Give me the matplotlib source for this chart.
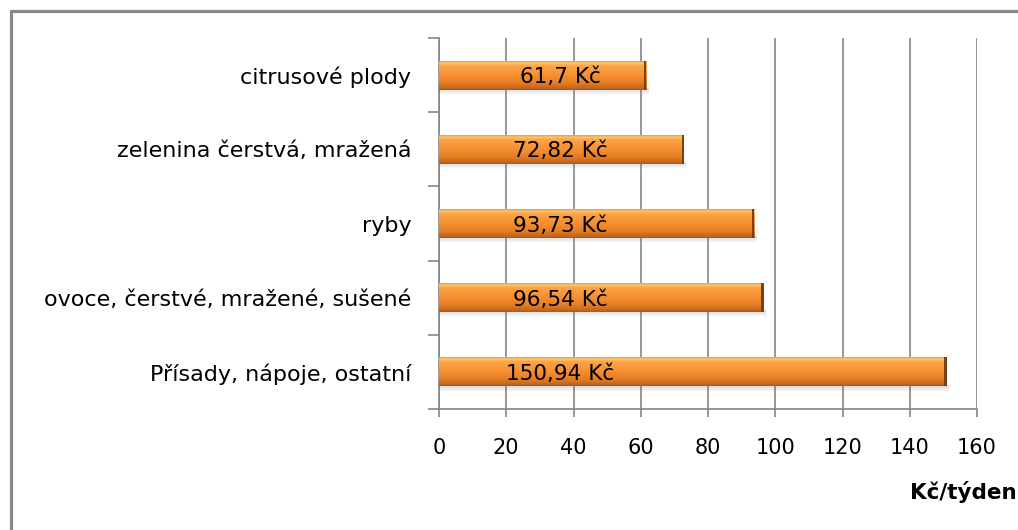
import numpy as np
import matplotlib
matplotlib.use('Agg')
import matplotlib.pyplot as plt
from matplotlib.colors import LinearSegmentedColormap
from matplotlib.lines import Line2D

plt.rcParams['font.family'] = ['DejaVu Sans']

# weekly spending per food group (Kč/týden), bottom to top
categories = ['Přísady, nápoje, ostatní', 'ovoce, čerstvé, mražené, sušené',
              'ryby', 'zelenina čerstvá, mražená', 'citrusové plody']
values = [150.94, 96.54, 93.73, 72.82, 61.7]
x_ticks = [0, 20, 40, 60, 80, 100, 120, 140, 160]

fig = plt.figure(figsize=(10.18, 5.30), dpi=100)
ax = fig.add_axes([439 / 1018, 1 - 409 / 530, 538 / 1018, 371 / 530])

# orange bevel: light top rim, body, darker bottom band
bar_cmap = LinearSegmentedColormap.from_list('bevel', [
    (0.0, '#a85a1c'), (0.08, '#c8691e'), (0.25, '#e67f24'),
    (0.55, '#f79232'), (0.85, '#fba449'), (0.93, '#fdc46e'), (1.0, '#f0a040')])
shadow_cmap = LinearSegmentedColormap.from_list(
    'shadow', [(0, (0.5, 0.5, 0.5, 0.0)), (1, (0.5, 0.5, 0.5, 0.35))])
grad = np.linspace(0, 1, 64).reshape(-1, 1)

h = 0.39
for i, v in enumerate(values):
    # soft shadow under the bar
    ax.imshow(grad, extent=[0.3, v + 0.6, i - h / 2 - 0.07, i - h / 2 + 0.02],
              cmap=shadow_cmap, aspect='auto', origin='lower', zorder=2)
    ax.imshow(grad, extent=[0, v, i - h / 2, i + h / 2], cmap=bar_cmap,
              aspect='auto', origin='lower', zorder=3)
    # dark right end
    ax.barh(i, 0.7, left=v - 0.7, height=h, color='#7a4212', zorder=4)
    ax.text(36, i, f'{v:g} Kč'.replace('.', ','), ha='center',
            va='center_baseline', fontsize=15.5, color='black', zorder=5)

ax.set_xlim(0, 160)
ax.set_ylim(-0.5, len(values) - 0.5)
ax.set_xticks(x_ticks)
ax.tick_params(axis='x', labelsize=15, length=6, width=1.2, color='#868686',
               pad=15)
ax.set_yticks(range(len(values)))
ax.set_yticklabels(categories, fontsize=16)
ax.set_yticks(np.arange(-0.5, len(values)), minor=True)
ax.tick_params(axis='y', which='major', length=0, pad=20)
ax.tick_params(axis='y', which='minor', length=8, width=1.2, color='#868686')
ax.grid(axis='x', color='#868686', linewidth=1.2, zorder=1)
ax.set_axisbelow(True)
for side in ['top', 'right']:
    ax.spines[side].set_visible(False)
for side in ['left', 'bottom']:
    ax.spines[side].set_color('#868686')
    ax.spines[side].set_linewidth(1.2)

fig.text(1017 / 1018, 1 - 492 / 530, 'Kč/týden', ha='right', va='center',
         fontsize=15.5, fontweight='bold')

# chart frame (left and top edges)
fig.add_artist(Line2D([10.5 / 1018, 10.5 / 1018, 1], [0, 1 - 11 / 530, 1 - 11 / 530],
                      color='#888888', linewidth=2.3, transform=fig.transFigure))

fig.savefig('out.png', dpi=100)
